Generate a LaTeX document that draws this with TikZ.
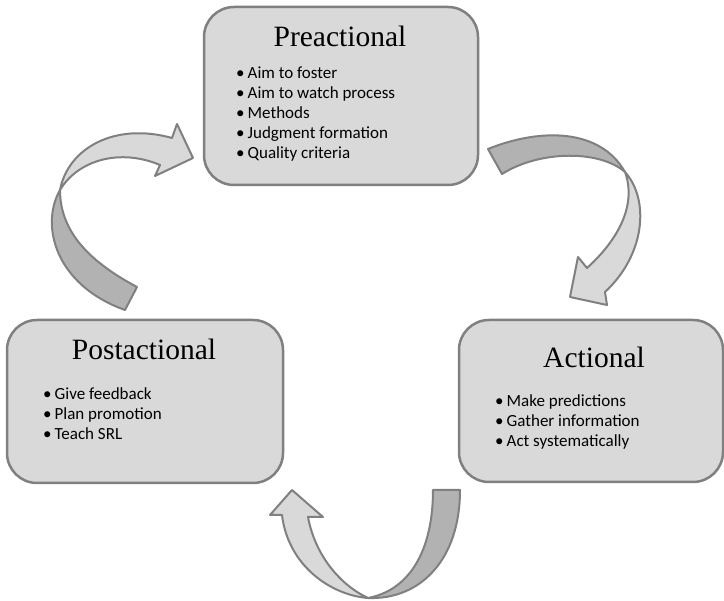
\documentclass[tikz,border=0pt]{standalone}
\usepackage{fontspec}
\setmainfont{Liberation Serif}
\newfontfamily\bodyfont{Carlito}
\definecolor{boxfill}{RGB}{217,217,217}
\definecolor{edgegray}{RGB}{128,128,128}
\definecolor{darkband}{RGB}{178,178,178}
\newcommand\itm[1]{\textbullet\hspace{3pt}#1}
\tikzset{
  stagebox/.style={draw=edgegray, line width=2.5pt, fill=boxfill, rounded corners=30pt, inner sep=0pt},
  stagetitle/.style={anchor=base, inner sep=0pt, font=\fontsize{29.5}{31}\selectfont},
  stageitem/.style={anchor=base west, inner sep=0pt, font=\bodyfont\fontsize{17}{20}\selectfont},
  lightpart/.style={draw=edgegray, line width=2pt, fill=boxfill, line join=round},
  darkpart/.style={draw=edgegray, line width=2pt, fill=darkband, line join=round}
}
\begin{document}
\begin{tikzpicture}[x=1pt,y=-1pt]
\useasboundingbox (0,0) rectangle (724,601);
\fill[white] (0,0) rectangle (724,601);

% boxes
\node[stagebox, minimum width=274pt, minimum height=178pt] (pre) at (341,96) {};
\node[stagebox, minimum width=276pt, minimum height=163pt] (post) at (145,401.5) {};
\node[stagebox, minimum width=264pt, minimum height=162pt] (act) at (591,401) {};

% titles
\node[stagetitle] (pretitle) at (340,47) {Preactional};
\node[stagetitle] (posttitle) at (144,360) {Postactional};
\node[stagetitle] (acttitle) at (594,368) {Actional};

% items
\node[stageitem] (pre1) at (236,79) {\itm{Aim to foster}};
\node[stageitem] (pre2) at (236,99) {\itm{Aim to watch process}};
\node[stageitem] (pre3) at (236,119) {\itm{Methods}};
\node[stageitem] (pre4) at (236,139) {\itm{Judgment formation}};
\node[stageitem] (pre5) at (236,159) {\itm{Quality criteria}};

\node[stageitem] (post1) at (43,400) {\itm{Give feedback}};
\node[stageitem] (post2) at (43,420) {\itm{Plan promotion}};
\node[stageitem] (post3) at (43,440) {\itm{Teach SRL}};

\node[stageitem] (act1) at (495,407) {\itm{Make predictions}};
\node[stageitem] (act2) at (495,427) {\itm{Gather information}};
\node[stageitem] (act3) at (495,447) {\itm{Act systematically}};

% arrow: postactional -> preactional
\coordinate (c1) at (60,190);
\draw[darkpart] (c1) .. controls (40,225) and (55,285) .. (125,310)
  -- (137,287) .. controls (90,262) and (60,232) .. (c1) -- cycle;
\draw[lightpart] (c1) .. controls (68,148) and (115,122) .. (172,138)
  -- (177,124) -- (193,158) -- (155,176) -- (160,165)
  .. controls (120,148) and (78,160) .. (c1) -- cycle;

% arrow: preactional -> actional
\coordinate (c2) at (625,172);
\draw[darkpart] (488,149) .. controls (540,128) and (600,128) .. (c2)
  .. controls (600,150) and (540,150) .. (502,174) -- cycle;
\draw[lightpart] (c2) .. controls (650,200) and (645,255) .. (605,292)
  -- (607,305) -- (570,297) -- (578,257) -- (587,268)
  .. controls (618,240) and (637,205) .. (c2) -- cycle;

% arrow: actional -> postactional
\coordinate (c3) at (368,598);
\draw[darkpart] (c3) .. controls (410,590) and (433,550) .. (433,490)
  -- (460,490) .. controls (460,560) and (420,600) .. (c3) -- cycle;
\draw[lightpart] (c3) .. controls (330,595) and (288,565) .. (282,515)
  -- (270,515) -- (292,490) -- (323,517) -- (308,517)
  .. controls (315,555) and (340,585) .. (c3) -- cycle;
\end{tikzpicture}
\end{document}
